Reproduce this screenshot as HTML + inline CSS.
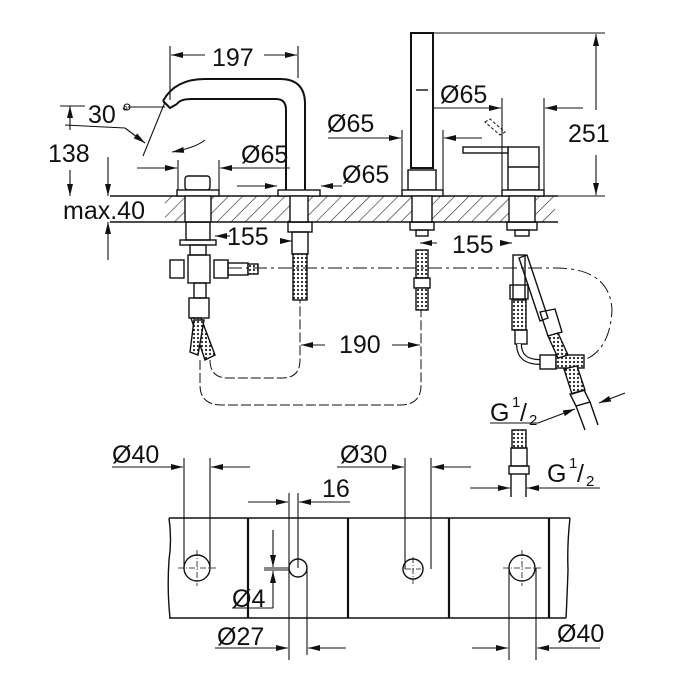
<!DOCTYPE html>
<html><head><meta charset="utf-8"><style>
html,body{margin:0;padding:0;background:#fff}
svg{display:block}
text{font-family:"Liberation Sans",sans-serif;fill:#111}
</style></head><body>
<svg width="700" height="700" viewBox="0 0 700 700" xmlns="http://www.w3.org/2000/svg">
<defs>
<marker id="a" viewBox="0 0 12 6" refX="12" refY="3" markerWidth="12" markerHeight="6" orient="auto-start-reverse" markerUnits="userSpaceOnUse"><path d="M0,0L12,3L0,6z" fill="#111"/></marker>
<pattern id="h" width="10" height="10" patternUnits="userSpaceOnUse" patternTransform="rotate(45)"><line x1="0" y1="0" x2="0" y2="10" stroke="#222" stroke-width="1.2"/></pattern>
<pattern id="mesh" width="4" height="4" patternUnits="userSpaceOnUse"><rect width="4" height="4" fill="#fff"/><circle cx="2" cy="2" r="1.1" fill="#222"/></pattern>
</defs>
<g stroke="#111" stroke-width="1.4" fill="none">
<rect x="165" y="196" width="390" height="26" fill="url(#h)" stroke="none"/>
<line x1="110" y1="196" x2="558" y2="196"/>
<line x1="110" y1="222" x2="558" y2="222"/>
<path d="M163,101 Q175,79 205,79 L280,79 Q305,79 305,104 L305,190" stroke-width="2"/>
<path d="M177,104 Q180,99 192,99 L276,99 Q286,99 286,110 L286,190" stroke-width="2"/>
<path d="M163,101 L170,108 L177,104" stroke-width="2"/>
<rect x="278" y="190" width="42" height="6" fill="#fff"/>
<rect x="185" y="176" width="25" height="14" rx="3" fill="#fff"/>
<rect x="177" y="190" width="42" height="6" fill="#fff"/>
<rect x="411" y="33" width="22" height="135" fill="#fff" stroke-width="2"/>
<line x1="416" y1="90" x2="428" y2="90"/>
<rect x="408" y="170" width="28" height="20" fill="#fff"/>
<rect x="402" y="190" width="41" height="6" fill="#fff"/>
<rect x="508" y="147" width="31" height="43" fill="#fff"/>
<line x1="508" y1="167" x2="539" y2="167"/>
<rect x="463" y="147" width="45" height="6" fill="#fff"/>
<rect x="502" y="190" width="42" height="6" fill="#fff"/>
<path d="M485,122 L490,119 L505,132 L500,135z" stroke-width="1" stroke-dasharray="3,2"/>
<rect x="185" y="196" width="26" height="26" fill="#fff"/>
<rect x="290" y="196" width="18" height="26" fill="#fff"/>
<rect x="412" y="196" width="20" height="26" fill="#fff"/>
<rect x="509" y="196" width="26" height="26" fill="#fff"/>
<rect x="186" y="222" width="24" height="18"/>
<rect x="180" y="240" width="36" height="5"/>
<rect x="190" y="245" width="16" height="10"/>
<rect x="188" y="255" width="22" height="28"/>
<rect x="170" y="260" width="14" height="18"/><rect x="214" y="260" width="14" height="18"/>
<rect x="228" y="263" width="20" height="12"/>
<rect x="248" y="264" width="10" height="10" fill="url(#mesh)"/>
<rect x="194" y="283" width="12" height="15"/>
<rect x="189" y="298" width="20" height="20"/>
<path d="M191,318 L201,318 L215,355 L205,360z" fill="url(#mesh)"/>
<path d="M194,320 L204,320 L198,355 L190,352z" fill="url(#mesh)"/>
<rect x="288" y="222" width="24" height="10"/>
<rect x="292" y="232" width="16" height="22"/>
<rect x="293" y="254" width="14" height="46" fill="url(#mesh)"/>
<rect x="410" y="222" width="24" height="8"/>
<rect x="416" y="230" width="12" height="6"/>
<rect x="416" y="250" width="12" height="28" fill="url(#mesh)"/>
<rect x="414" y="278" width="16" height="10"/>
<rect x="416" y="288" width="12" height="22" fill="url(#mesh)"/>
<rect x="507" y="222" width="30" height="8"/>
<rect x="515" y="230" width="14" height="6"/>
<rect x="513" y="255" width="12" height="70"/>
<rect x="510" y="285" width="18" height="14"/>
<rect x="512" y="300" width="14" height="30" fill="url(#mesh)"/>
<rect x="515" y="330" width="12" height="14"/>
<path d="M519,344 Q519,362 540,362" stroke-width="6"/>
<path d="M519,344 Q519,362 540,362" stroke-width="3.5" stroke="#fff"/>
<rect x="540" y="355" width="16" height="14"/>
<rect x="556" y="355" width="28" height="13" fill="url(#mesh)"/>
<path d="M527,255 L548,318 L540,321 L519,258z"/>
<path d="M540,312 L555,309 L562,332 L548,336z"/>
<path d="M548,336 L558,333 L568,355 L558,358z" fill="url(#mesh)"/>
<path d="M564,369 L577,366 L585,390 L572,394z" fill="url(#mesh)"/>
<path d="M570,394 L584,390 L590,402 L576,406z"/>
<line x1="576" y1="406" x2="585" y2="430"/><line x1="590" y1="402" x2="598" y2="425"/>
<rect x="512" y="430" width="14" height="18" fill="url(#mesh)"/>
<rect x="511" y="448" width="16" height="18"/>
<rect x="509" y="466" width="20" height="8"/>
<line x1="511" y1="474" x2="511" y2="497"/><line x1="526" y1="474" x2="526" y2="497"/>
<path d="M228,268 H555 Q610,268 612,310 Q610,350 584,360" stroke-width="1" stroke-dasharray="14,4,3,4"/>
<path d="M210,360 Q210,378 228,378 L282,378 Q300,378 300,360 L300,300" stroke-width="1" stroke-dasharray="10,3"/>
<path d="M200,360 L200,385 Q200,405 222,405 L400,405 Q421,405 421,385 L421,310" stroke-width="1" stroke-dasharray="10,3"/>
</g>
<g stroke="#111" stroke-width="1.1" fill="none">
<line x1="170" y1="46" x2="170" y2="100"/><line x1="298" y1="46" x2="298" y2="78"/>
<line x1="171" y1="55" x2="205" y2="55" marker-start="url(#a)"/><line x1="264" y1="55" x2="297" y2="55" marker-end="url(#a)"/>
<line x1="128" y1="107" x2="165" y2="107"/><circle cx="127" cy="107" r="3"/>
<line x1="165" y1="102" x2="143" y2="156"/>
<line x1="65" y1="125" x2="125" y2="128"/><line x1="125" y1="128" x2="145" y2="143" marker-end="url(#a)"/>
<path d="M205,140 Q195,148 172,152" marker-end="url(#a)"/>
<line x1="60" y1="106" x2="85" y2="106"/>
<line x1="70" y1="106" x2="70" y2="130" marker-start="url(#a)"/><line x1="70" y1="170" x2="70" y2="196" marker-end="url(#a)"/>
<line x1="108" y1="157" x2="108" y2="196" marker-end="url(#a)"/>
<line x1="108" y1="222" x2="108" y2="260" marker-start="url(#a)"/>
<line x1="178" y1="160" x2="178" y2="190"/><line x1="219" y1="160" x2="219" y2="190"/>
<line x1="137" y1="168" x2="177" y2="168" marker-end="url(#a)"/><line x1="220" y1="168" x2="290" y2="168" marker-start="url(#a)"/>
<line x1="237" y1="186" x2="277" y2="186" marker-end="url(#a)"/><line x1="321" y1="186" x2="342" y2="186" marker-start="url(#a)"/>
<line x1="402" y1="130" x2="402" y2="190"/><line x1="443" y1="130" x2="443" y2="190"/>
<line x1="328" y1="138" x2="401" y2="138" marker-end="url(#a)"/><line x1="444" y1="138" x2="482" y2="138" marker-start="url(#a)"/>
<line x1="502" y1="98" x2="502" y2="190"/><line x1="544" y1="98" x2="544" y2="190"/>
<line x1="433" y1="108" x2="501" y2="108" marker-end="url(#a)"/><line x1="545" y1="108" x2="583" y2="108" marker-start="url(#a)"/>
<line x1="433" y1="33" x2="605" y2="33"/><line x1="548" y1="196" x2="605" y2="196"/>
<line x1="596" y1="34" x2="596" y2="110" marker-start="url(#a)"/><line x1="596" y1="155" x2="596" y2="195" marker-end="url(#a)"/>
<line x1="230" y1="236" x2="215" y2="236" marker-end="url(#a)"/><line x1="280" y1="241" x2="292" y2="241" marker-end="url(#a)"/>
<line x1="420" y1="243" x2="437" y2="243" marker-start="url(#a)"/><line x1="500" y1="243" x2="512" y2="243" marker-end="url(#a)"/>
<line x1="301" y1="345" x2="325" y2="345" marker-start="url(#a)"/><line x1="392" y1="345" x2="420" y2="345" marker-end="url(#a)"/>
<line x1="490" y1="423" x2="538" y2="423"/><line x1="538" y1="423" x2="575" y2="409" marker-end="url(#a)"/>
<line x1="625" y1="393" x2="599" y2="403" marker-end="url(#a)"/>
<line x1="470" y1="488" x2="510" y2="488" marker-end="url(#a)"/><line x1="527" y1="488" x2="600" y2="488" marker-start="url(#a)"/>
<path d="M169,518 L570,518 M169,618 L566,618 M169,518 Q172,540 169,560 Q167,590 170,618 M570,518 Q567,545 568,570 Q567,600 566,618" stroke-width="1.4"/>
<line x1="248" y1="518" x2="248" y2="618" stroke-width="2.2"/>
<line x1="348" y1="518" x2="348" y2="618" stroke-width="2.2"/>
<line x1="449" y1="518" x2="449" y2="618" stroke-width="2.2"/>
<line x1="549" y1="518" x2="549" y2="618" stroke-width="2.2"/>
<circle cx="197" cy="568" r="13" stroke-width="1.4"/><circle cx="298" cy="568" r="9" stroke-width="1.4"/>
<circle cx="413" cy="569" r="10" stroke-width="1.4"/><circle cx="522" cy="568" r="13" stroke-width="1.4"/>
<g stroke-width="0.8" stroke-dasharray="6,2,1,2">
<line x1="178" y1="568" x2="216" y2="568"/><line x1="197" y1="550" x2="197" y2="586"/>
<line x1="405" y1="569" x2="421" y2="569"/><line x1="413" y1="557" x2="413" y2="584"/>
<line x1="503" y1="568" x2="541" y2="568"/><line x1="522" y1="550" x2="522" y2="586"/>
</g>
<line x1="184" y1="458" x2="184" y2="568"/><line x1="210" y1="458" x2="210" y2="568"/>
<line x1="112" y1="467" x2="183" y2="467" marker-end="url(#a)"/><line x1="211" y1="467" x2="250" y2="467" marker-start="url(#a)"/>
<line x1="405" y1="458" x2="405" y2="569"/><line x1="431" y1="458" x2="431" y2="569"/>
<line x1="337" y1="467" x2="404" y2="467" marker-end="url(#a)"/><line x1="432" y1="467" x2="471" y2="467" marker-start="url(#a)"/>
<line x1="289" y1="493" x2="289" y2="660"/><line x1="298" y1="493" x2="298" y2="568"/>
<line x1="248" y1="502" x2="288" y2="502" marker-end="url(#a)"/><line x1="299" y1="502" x2="350" y2="502" marker-start="url(#a)"/>
<line x1="307" y1="568" x2="307" y2="655"/>
<line x1="215" y1="648" x2="288" y2="648" marker-end="url(#a)"/><line x1="308" y1="648" x2="346" y2="648" marker-start="url(#a)"/>
<line x1="264" y1="568" x2="289" y2="568"/><line x1="264" y1="570" x2="289" y2="570"/>
<line x1="273" y1="530" x2="273" y2="567" marker-end="url(#a)"/><line x1="273" y1="608" x2="273" y2="571" marker-end="url(#a)"/>
<line x1="232" y1="608" x2="273" y2="608"/>
<line x1="509" y1="568" x2="509" y2="660"/><line x1="536" y1="568" x2="536" y2="660"/>
<line x1="472" y1="648" x2="508" y2="648" marker-end="url(#a)"/><line x1="537" y1="648" x2="600" y2="648" marker-start="url(#a)"/>
</g>
<g font-size="25">
<text x="212" y="66">197</text>
<text x="88" y="123">30</text><text x="122" y="117" font-size="16">°</text>
<text x="48" y="162">138</text>
<text x="241" y="163">Ø65</text>
<text x="342" y="183">Ø65</text>
<text x="327" y="132">Ø65</text>
<text x="440" y="103">Ø65</text>
<text x="568" y="142">251</text>
<text x="63" y="219">max.40</text>
<text x="227" y="245">155</text>
<text x="452" y="253">155</text>
<text x="339" y="353">190</text>
<text x="490" y="421">G</text><text x="512" y="407" font-size="15">1</text><text x="520" y="421">/</text><text x="529" y="425" font-size="15">2</text>
<text x="547" y="482">G</text><text x="569" y="468" font-size="15">1</text><text x="577" y="482">/</text><text x="586" y="486" font-size="15">2</text>
<text x="112" y="463">Ø40</text>
<text x="340" y="463">Ø30</text>
<text x="322" y="497">16</text>
<text x="232" y="607">Ø4</text>
<text x="217" y="645">Ø27</text>
<text x="557" y="642">Ø40</text>
</g>
</svg>
</body></html>
